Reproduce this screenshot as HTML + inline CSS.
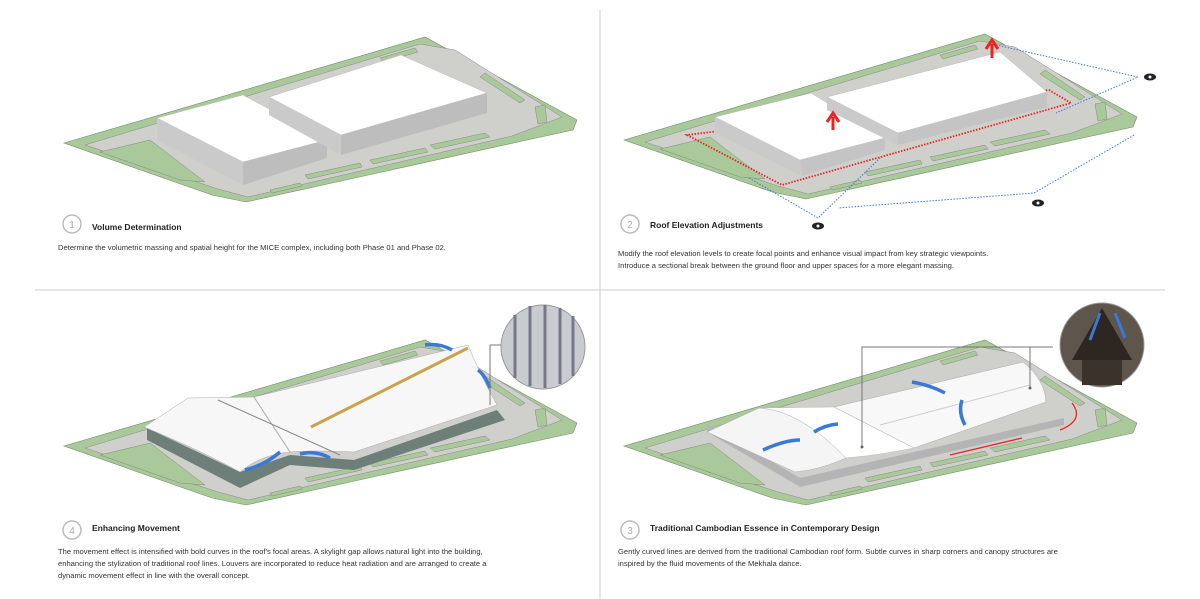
<!DOCTYPE html>
<html><head><meta charset="utf-8"><style>
body{margin:0;background:#fff;width:1200px;height:599px;overflow:hidden;font-family:"Liberation Sans",sans-serif}
svg{position:absolute;left:0;top:0}
.t{font-size:8.5px;font-weight:bold;fill:#222}
.b{font-size:7.6px;fill:#333}
.n{font-size:10px;fill:#aaa}
</style></head><body>
<svg width="1200" height="599" viewBox="0 0 1200 599">
<defs>
<g id="site">
<polygon points="64,143 425,37 577,120 573,130 518,142 246,202 212,195" fill="#a9c99a" stroke="#6f8f66" stroke-width="0.6"/>
<polygon points="85,145 420,44 455,50 562,117 512,136 248,197 218,189" fill="#cfcfcb" stroke="#888" stroke-width="0.5"/>
<polygon points="100,152 150,140 205,182 180,180" fill="#a9c99a" stroke="#777" stroke-width="0.4"/>
<polygon points="485,73 525,100 520,103 480,77" fill="#a9c99a" stroke="#777" stroke-width="0.4"/>
<polygon points="430,145 485,133 490,137 435,149" fill="#a9c99a" stroke="#777" stroke-width="0.4"/>
<polygon points="370,160 425,148 428,152 373,164" fill="#a9c99a" stroke="#777" stroke-width="0.4"/>
<polygon points="305,175 360,163 362,167 308,179" fill="#a9c99a" stroke="#777" stroke-width="0.4"/>
<polygon points="270,190 300,183 302,186 272,193" fill="#a9c99a" stroke="#777" stroke-width="0.4"/>
<polygon points="535,107 545,105 547,122 538,124" fill="#a9c99a" stroke="#777" stroke-width="0.4"/>
<polygon points="380,58 415,48 418,52 383,62" fill="#a9c99a" stroke="#777" stroke-width="0.4"/>
</g>
</defs>
<line x1="600" y1="10" x2="600" y2="599" stroke="#ccc"/>
<line x1="35" y1="290" x2="1165" y2="290" stroke="#ccc"/>

<!-- Panel 1 -->
<use href="#site"/>
<polygon points="157,118 243,95 327,140 243,162" fill="#fff" stroke="#bbb" stroke-width="0.5"/>
<polygon points="157,118 243,162 243,185 157,140" fill="#cacaca"/>
<polygon points="243,162 327,140 327,158 243,185" fill="#bdbdbd"/>
<polygon points="269,97 401,55 487,93 341,135" fill="#fff" stroke="#bbb" stroke-width="0.5"/>
<polygon points="269,97 341,135 341,155 269,115" fill="#cacaca"/>
<polygon points="341,135 487,93 487,113 341,155" fill="#bdbdbd"/>
<circle cx="72" cy="224" r="9" fill="none" stroke="#bbb" stroke-width="1.5"/><text x="72" y="228" class="n" text-anchor="middle">1</text>
<text x="92" y="230" class="t">Volume Determination</text>
<text x="58" y="250" class="b">Determine the volumetric massing and spatial height for the MICE complex, including both Phase 01 and Phase 02.</text>

<!-- Panel 2 -->
<use href="#site" transform="translate(560,-3)"/>
<polygon points="687,135 782,185 1071,103 1049,90" fill="none" stroke="#e22" stroke-width="1.8" stroke-dasharray="1.5,1.5"/>
<polygon points="715,117 811,93 885,138 800,160" fill="#fff" stroke="#bbb" stroke-width="0.5"/>
<polygon points="715,117 800,160 802,176 715,133" fill="#cacaca"/>
<polygon points="800,160 885,138 885,150 802,176" fill="#c4c4c4"/>
<polygon points="827,97 1000,52 1047,92 898,133" fill="#fff" stroke="#bbb" stroke-width="0.5"/>
<polygon points="827,97 898,133 898,145 827,110" fill="#cacaca"/>
<polygon points="898,133 1047,92 1047,107 898,145" fill="#c4c4c4"/>
<g fill="none" stroke="#3a7ad6" stroke-width="1" stroke-dasharray="1.5,1.5">
<polyline points="996,45 1138,77 1056,113"/>
<polyline points="1134,135 1034,193 838,208"/>
<polyline points="749,178 818,218 880,158"/>
</g>
<path d="M992,58 V44 M986,49 L992,40 L998,49" stroke="#e22" stroke-width="3" fill="none"/>
<path d="M833,130 V117 M827,122 L833,113 L839,122" stroke="#e22" stroke-width="3" fill="none"/>
<g fill="#222"><ellipse cx="1150" cy="77" rx="6" ry="3.5"/><ellipse cx="1038" cy="203" rx="6" ry="3.5"/><ellipse cx="818" cy="226" rx="6" ry="3.5"/></g>
<g fill="#fff"><circle cx="1150" cy="77" r="1.5"/><circle cx="1038" cy="203" r="1.5"/><circle cx="818" cy="226" r="1.5"/></g>
<circle cx="630" cy="224" r="9" fill="none" stroke="#bbb" stroke-width="1.5"/><text x="630" y="228" class="n" text-anchor="middle">2</text>
<text x="650" y="228" class="t">Roof Elevation Adjustments</text>
<text x="618" y="256" class="b">Modify the roof elevation levels to create focal points and enhance visual impact from key strategic viewpoints.</text>
<text x="618" y="268" class="b">Introduce a sectional break between the ground floor and upper spaces for a more elegant massing.</text>

<!-- Panel 4 -->
<use href="#site" transform="translate(0,303)"/>
<path d="M147,428 L240,472 L290,455 L354,460 L497,410 L505,420 L354,470 L290,465 L240,488 L147,440Z" fill="#6d7f78"/>
<path d="M144,427 Q170,410 188,398 L254,397 L468,345 Q480,375 497,405 L354,452 Q310,450 290,452 Q260,455 240,472 Q200,450 144,427Z" fill="#f7f7f7" stroke="#aaa" stroke-width="0.5"/>
<line x1="254" y1="397" x2="290" y2="452" stroke="#aaa"/>
<line x1="218" y1="400" x2="340" y2="455" stroke="#888"/>
<line x1="311" y1="427" x2="468" y2="348" stroke="#c9a24a" stroke-width="3"/>
<path d="M245,470 Q265,465 280,452" stroke="#3a7ad6" stroke-width="3.5" fill="none"/>
<path d="M330,458 Q315,450 300,454" stroke="#3a7ad6" stroke-width="3.5" fill="none"/>
<path d="M490,388 Q485,375 478,370" stroke="#3a7ad6" stroke-width="3.5" fill="none"/>
<path d="M425,345 Q440,343 452,350" stroke="#3a7ad6" stroke-width="3.5" fill="none"/>
<line x1="490" y1="405" x2="490" y2="345" stroke="#777"/>
<line x1="490" y1="345" x2="501" y2="345" stroke="#777"/>
<circle cx="543" cy="347" r="42" fill="#c8ccd0" stroke="#999" stroke-width="1"/>
<g stroke="#778" stroke-width="3"><line x1="515" y1="315" x2="515" y2="378"/><line x1="530" y1="306" x2="530" y2="386"/><line x1="545" y1="305" x2="545" y2="388"/><line x1="560" y1="308" x2="560" y2="384"/><line x1="573" y1="316" x2="573" y2="376"/></g>
<circle cx="72" cy="530" r="9" fill="none" stroke="#bbb" stroke-width="1.5"/><text x="72" y="534" class="n" text-anchor="middle">4</text>
<text x="92" y="531" class="t">Enhancing Movement</text>
<text x="58" y="554" class="b">The movement effect is intensified with bold curves in the roof's focal areas. A skylight gap allows natural light into the building,</text>
<text x="58" y="566" class="b">enhancing the stylization of traditional roof lines. Louvers are incorporated to reduce heat radiation and are arranged to create a</text>
<text x="58" y="578" class="b">dynamic movement effect in line with the overall concept.</text>

<!-- Panel 3 -->
<use href="#site" transform="translate(560,303)"/>
<path d="M707,432 L800,487 L1064,425 L1064,418 L800,478 L707,424Z" fill="#b4b4b4"/>
<path d="M707,432 L759,408 Q800,410 846,458 Q820,470 795,472 Z" fill="#f5f5f5" stroke="#aaa" stroke-width="0.5"/>
<path d="M759,408 L834,407 L914,448 Q880,455 846,458 Q800,410 759,408Z" fill="#fff" stroke="#bbb" stroke-width="0.5"/>
<path d="M834,407 L1023,362 Q1045,380 1046,402 L914,448 Z" fill="#f8f8f8" stroke="#aaa" stroke-width="0.5"/>
<line x1="880" y1="425" x2="1030" y2="385" stroke="#ccc"/>
<polyline points="862,447 862,347 1053,347" fill="none" stroke="#777"/>
<polyline points="1030,347 1030,388" fill="none" stroke="#777"/>
<circle cx="862" cy="447" r="1.5" fill="#666"/><circle cx="1030" cy="388" r="1.5" fill="#666"/>
<path d="M763,450 Q785,440 800,440" stroke="#3a7ad6" stroke-width="3.5" fill="none"/>
<path d="M838,424 Q825,425 814,432" stroke="#3a7ad6" stroke-width="3.5" fill="none"/>
<path d="M912,382 Q930,385 945,393" stroke="#3a7ad6" stroke-width="3.5" fill="none"/>
<path d="M965,425 Q958,412 962,400" stroke="#3a7ad6" stroke-width="3.5" fill="none"/>
<path d="M950,455 L1022,438" stroke="#e22" stroke-width="1.3" fill="none"/>
<path d="M1072,403 Q1085,420 1060,430" stroke="#e22" stroke-width="1.3" fill="none"/>
<circle cx="1102" cy="345" r="42" fill="#5e554c" stroke="#999" stroke-width="1"/>
<polygon points="1072,360 1102,308 1132,360" fill="#2e2620"/>
<rect x="1082" y="360" width="40" height="25" fill="#3a322b"/>
<path d="M1090,340 L1100,313" stroke="#3a7ad6" stroke-width="3" fill="none"/>
<path d="M1115,313 L1125,338" stroke="#3a7ad6" stroke-width="3" fill="none"/>
<circle cx="630" cy="530" r="9" fill="none" stroke="#bbb" stroke-width="1.5"/><text x="630" y="534" class="n" text-anchor="middle">3</text>
<text x="650" y="531" class="t">Traditional Cambodian Essence in Contemporary Design</text>
<text x="618" y="554" class="b">Gently curved lines are derived from the traditional Cambodian roof form. Subtle curves in sharp corners and canopy structures are</text>
<text x="618" y="566" class="b">inspired by the fluid movements of the Mekhala dance.</text>
</svg>
</body></html>
